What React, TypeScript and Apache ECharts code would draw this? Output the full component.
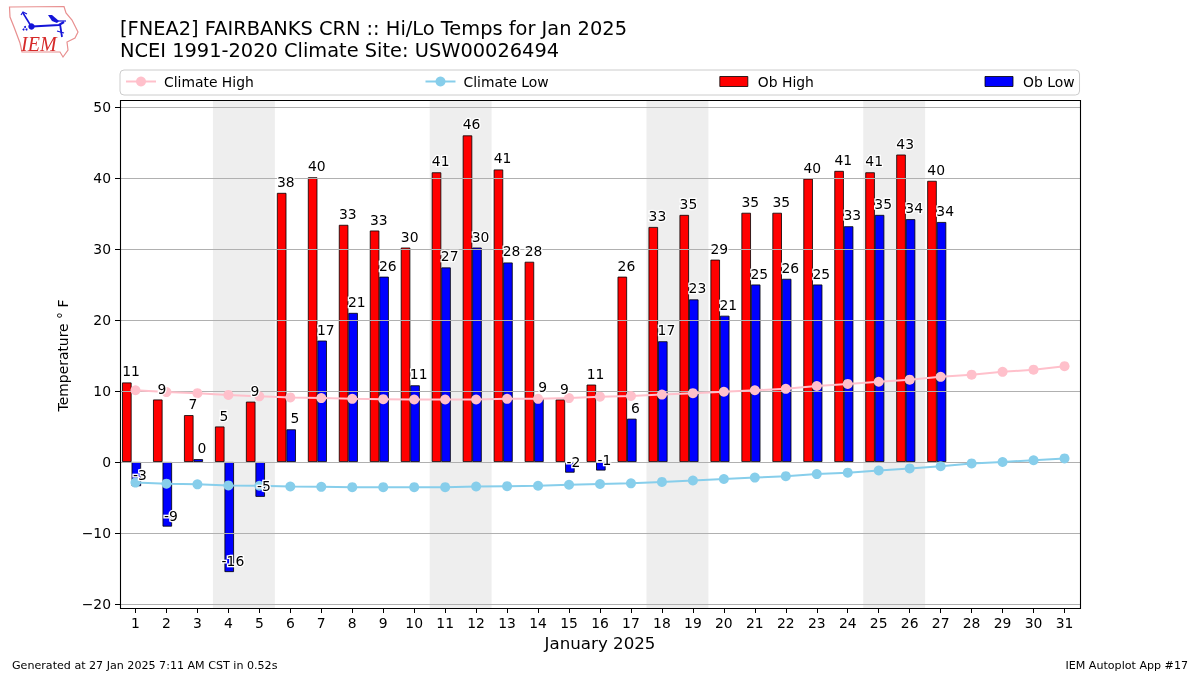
import React, { useEffect, useRef } from "react";
import * as echarts from "echarts";

const days = ["1","2","3","4","5","6","7","8","9","10","11","12","13","14","15","16","17","18","19","20","21","22","23","24","25","26","27","28","29","30","31"];
const obHigh = [11.2,8.8,6.6,5.0,8.5,37.9,40.1,33.4,32.6,30.2,40.8,46.0,41.2,28.2,8.8,10.9,26.1,33.1,34.8,28.5,35.1,35.1,39.9,41.0,40.8,43.3,39.6];
const obLow = [-3.4,-9.1,0.4,-15.5,-4.9,4.6,17.1,21.0,26.1,10.8,27.4,30.2,28.1,9.0,-1.5,-1.2,6.1,17.0,22.9,20.6,25.0,25.8,25.0,33.2,34.8,34.2,33.8];
const highLabels = ["11","9","7","5","9","38","40","33","33","30","41","46","41","28","9","11","26","33","35","29","35","35","40","41","41","43","40"];
const lowLabels = ["-3","-9","0","-16","-5","5","17","21","26","11","27","30","28","9","-2","-1","6","17","23","21","25","26","25","33","35","34","34"];
const climateHigh = [10.1,9.85,9.7,9.45,9.25,9.1,9.0,8.9,8.85,8.8,8.8,8.8,8.9,8.9,9.0,9.2,9.3,9.5,9.7,9.9,10.1,10.3,10.7,11.0,11.3,11.6,12.0,12.3,12.7,13.0,13.5];
const climateLow = [-2.9,-3.05,-3.15,-3.3,-3.35,-3.45,-3.5,-3.55,-3.55,-3.55,-3.55,-3.45,-3.4,-3.35,-3.2,-3.1,-3.0,-2.8,-2.6,-2.4,-2.2,-2.0,-1.7,-1.5,-1.2,-0.9,-0.6,-0.2,0.0,0.25,0.5];
const weekendStarts = [3,10,17,24];
const yTicks = { min: -20, max: 50, interval: 10 };

const FONT = "DejaVu Sans";
const BLUE = "#1414d8";

const logoGraphic = [
  { type: "polygon", shape: { points: [[9.5,7],[64,6.5],[66,13],[72,20],[78,32],[75,38],[67,42],[68,50],[63,57],[60,52],[22,52],[20,43],[14,27],[10,17]] }, style: { fill: "#fff", stroke: "#e88f8f", lineWidth: 1.2 }, z: 10 },
  { type: "polyline", shape: { points: [[32,26.5],[59,25],[64,22]] }, style: { stroke: BLUE, lineWidth: 2.2, fill: "none" }, z: 11 },
  { type: "polyline", shape: { points: [[23,13],[31,26]] }, style: { stroke: BLUE, lineWidth: 1.6, fill: "none" }, z: 11 },
  { type: "polyline", shape: { points: [[21,15],[23,12],[27,14]] }, style: { stroke: BLUE, lineWidth: 1.2, fill: "none" }, z: 11 },
  { type: "polygon", shape: { points: [[48,15],[52,15],[59,21],[57,23],[52,21]] }, style: { fill: BLUE }, z: 11 },
  { type: "polyline", shape: { points: [[54,21],[66,21]] }, style: { stroke: BLUE, lineWidth: 1.2, fill: "none" }, z: 11 },
  { type: "polyline", shape: { points: [[60,24],[62,37]] }, style: { stroke: BLUE, lineWidth: 1.8, fill: "none" }, z: 11 },
  { type: "polyline", shape: { points: [[57,31],[64,33]] }, style: { stroke: BLUE, lineWidth: 1.2, fill: "none" }, z: 11 },
  { type: "circle", shape: { cx: 31.5, cy: 26.5, r: 3.2 }, style: { fill: BLUE }, z: 11 },
  { type: "circle", shape: { cx: 25, cy: 27, r: 1 }, style: { fill: BLUE }, z: 11 },
  { type: "circle", shape: { cx: 23.5, cy: 29.5, r: 1 }, style: { fill: BLUE }, z: 11 },
  { type: "circle", shape: { cx: 26.5, cy: 29.5, r: 1 }, style: { fill: BLUE }, z: 11 },
  { type: "text", x: 21, y: 34, style: { text: "IEM", font: "italic 20px 'Liberation Serif'", fill: "#d62a2a" }, z: 11 },
];

const barIcon = "path://M0 0M0 1.25H28V11.25H0ZM30 12.5";

export default function App() {
  const ref = useRef<HTMLDivElement>(null);
  useEffect(() => {
    const chart = echarts.init(ref.current!, null, { renderer: "svg" });
    const labelSeries = (name: string, values: number[], texts: string[], dx: number, halo: boolean) => ({
      type: "line", name, data: values, symbol: "circle", symbolSize: 0, showSymbol: true, showAllSymbol: true,
      lineStyle: { width: 0, opacity: 0 }, itemStyle: { opacity: 1 },
      z: halo ? 5 : 7, silent: true, clip: false,
      label: {
        show: true, fontFamily: FONT, fontSize: 13.9, position: [0, 0], align: "center", verticalAlign: "middle",
        color: halo ? "#fff" : "#000",
        textBorderColor: halo ? "#fff" : "transparent",
        textBorderWidth: halo ? 2.6 : 0,
        opacity: 1,
        offset: [dx, -11],
        formatter: (p: any) => texts[p.dataIndex],
      },
    });
    chart.setOption({
      animation: false,
      textStyle: { fontFamily: FONT },
      title: {
        text: "[FNEA2] FAIRBANKS CRN :: Hi/Lo Temps for Jan 2025\nNCEI 1991-2020 Climate Site: USW00026494",
        left: 120, top: 17, padding: 0,
        textStyle: { fontFamily: FONT, fontSize: 19.4, fontWeight: "normal", color: "#000", lineHeight: 22.5 },
      },
      legend: {
        data: [
          { name: "Climate High" }, { name: "Climate Low" },
          { name: "Ob High", icon: barIcon, itemStyle: { borderWidth: 0.8 } },
          { name: "Ob Low", icon: barIcon, itemStyle: { borderWidth: 0.8 } },
        ],
        left: 120, top: 70, padding: [4.5, 5, 6.5, 5], itemGap: 170.7, itemWidth: 30, itemHeight: 12.5,
        borderColor: "#ccc", borderWidth: 1, borderRadius: 4, backgroundColor: "#fff",
        textStyle: { fontFamily: FONT, fontSize: 13.9, color: "#000", padding: [0, 0, 0, 3] },
      },
      grid: { left: 120, top: 107, width: 960, bottom: 71, containLabel: false },
      xAxis: {
        type: "category", data: days, offset: 4, z: 3,
        axisLine: { show: false, onZero: false },
        axisTick: { show: true, alignWithLabel: true, length: 5, lineStyle: { color: "#000" } },
        axisLabel: { color: "#000", fontSize: 13.9, fontFamily: FONT, margin: 8, interval: 0 },
        name: "January 2025", nameLocation: "middle", nameGap: 27,
        nameTextStyle: { fontFamily: FONT, fontSize: 16.67, color: "#000" },
        splitLine: { show: false },
      },
      yAxis: {
        type: "value", ...yTicks, z: 3,
        axisLine: { show: false },
        axisTick: { show: true, length: 5, lineStyle: { color: "#000" } },
        axisLabel: { color: "#000", fontSize: 13.9, fontFamily: FONT, margin: 9, formatter: (v: number) => String(v).replace("-", "\u2212") },
        splitLine: { show: true, lineStyle: { color: "#b0b0b0", width: 1 } },
        name: "Temperature \u00b0 F", nameLocation: "middle", nameRotate: 90, nameGap: 50,
        nameTextStyle: { fontFamily: FONT, fontSize: 13.9, color: "#000" },
      },
      graphic: [
        { type: "rect", z: 6, silent: true, shape: { x: 120.5, y: 100.5, width: 960, height: 508 }, style: { fill: "none", stroke: "#000", lineWidth: 1.1 } },
        { type: "text", left: 12, top: 660, style: { text: "Generated at 27 Jan 2025 7:11 AM CST in 0.52s", font: `11.1px '${FONT}'`, fill: "#000" } },
        { type: "text", right: 12, top: 660, style: { text: "IEM Autoplot App #17", font: `11.1px '${FONT}'`, fill: "#000" } },
        ...logoGraphic,
      ],
      series: [
        {
          type: "custom", name: "Weekend", z: 1, silent: true, clip: false, data: weekendStarts.map((d) => [d]),
          encode: { x: 0 },
          renderItem: (params: any, api: any) => {
            const cx = api.coord([api.value(0), 0])[0];
            const w = api.size([1, 0])[0];
            const cs = params.coordSys;
            return { type: "rect", shape: { x: cx - w / 2, y: cs.y - 7, width: w * 2, height: cs.height + 11 }, style: { fill: "#eeeeee" } };
          },
        },
        { type: "bar", name: "Ob High", data: obHigh, barWidth: 9.5, barGap: 0, z: 2, itemStyle: { color: "#ff0000", borderColor: "#000", borderWidth: 0.8 } },
        { type: "bar", name: "Ob Low", data: obLow, barWidth: 9.5, barGap: 0, z: 2, itemStyle: { color: "#0000ff", borderColor: "#000", borderWidth: 0.8 } },
        { type: "bar", name: "Spacer", data: [], barWidth: 7.8, barGap: 0, z: 2 },
        { type: "line", name: "Climate High", data: climateHigh, z: 4, symbol: "circle", symbolSize: 10, showSymbol: true, lineStyle: { color: "#ffc0cb", width: 2 }, itemStyle: { color: "#ffc0cb" } },
        { type: "line", name: "Climate Low", data: climateLow, z: 4, symbol: "circle", symbolSize: 10, showSymbol: true, lineStyle: { color: "#87ceeb", width: 2 }, itemStyle: { color: "#87ceeb" } },
        labelSeries("High halo", obHigh, highLabels, -4.5, true),
        labelSeries("Low halo", obLow, lowLabels, 4.5, true),
        labelSeries("High labels", obHigh, highLabels, -4.5, false),
        labelSeries("Low labels", obLow, lowLabels, 4.5, false),
      ],
    });
    return () => chart.dispose();
  }, []);
  return <div ref={ref} style={{ position: "fixed", left: 0, top: 0, width: 1200, height: 675 }} />;
}
